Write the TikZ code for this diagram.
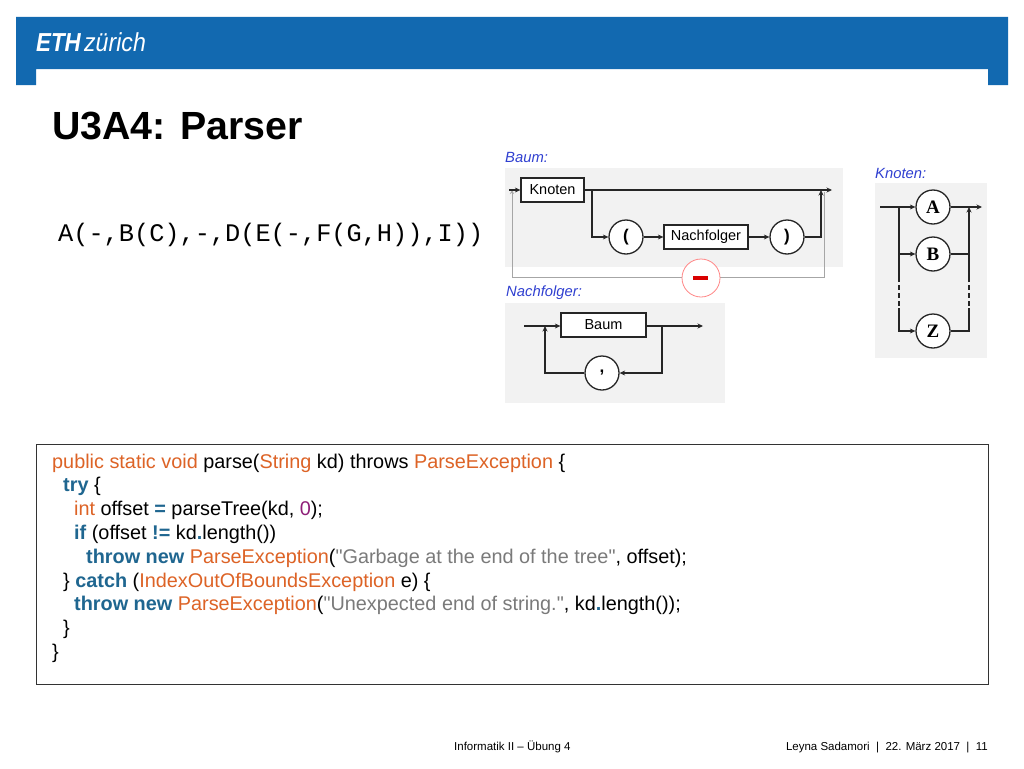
\documentclass[tikz,border=0pt]{standalone}
\usepackage{fontspec}
\setmainfont{Liberation Sans}
\setmonofont{Liberation Mono}
\newfontfamily\codefont{Liberation Sans}
\newfontfamily\letterfont{Liberation Serif}
\usepackage{xcolor}
\usetikzlibrary{positioning, arrows.meta}

\definecolor{ethblue}{HTML}{1269B0}
\definecolor{panelgray}{HTML}{F2F2F2}
\definecolor{labelblue}{HTML}{2F3FD0}
\definecolor{kworange}{HTML}{DD6326}
\definecolor{kwblue}{HTML}{1F6690}
\definecolor{numpurple}{HTML}{8E1E78}
\definecolor{strgray}{HTML}{7A7A7A}
\newcommand{\kwo}[1]{\textcolor{kworange}{#1}}
\newcommand{\kwb}[1]{\textcolor{kwblue}{\textbf{#1}}}
\newcommand{\strg}[1]{\textcolor{strgray}{#1}}

\begin{document}
\begin{tikzpicture}[x=1pt, y=-1pt,
  % Node Styles
  boxnode/.style={rectangle, draw=black!85, fill=white, line width=1.3pt, inner sep=0pt, align=center, font=\fontsize{14.5}{16}\selectfont},
  tokennode/.style={circle, draw=black!85, fill=white, line width=1.3pt, minimum size=34pt, inner sep=0pt, font=\fontsize{17}{18}\selectfont\bfseries},
  lettertoken/.style={tokennode, font=\fontsize{19}{20}\selectfont\letterfont\bfseries},
  panel/.style={fill=panelgray, draw=none},
  headlabel/.style={anchor=base west, inner sep=0pt, text=labelblue, font=\fontsize{14.8}{16}\selectfont\itshape},
  footlabel/.style={inner sep=0pt, font=\fontsize{11.5}{13}\selectfont},
  % Arrow Styles
  flowline/.style={line width=1.2pt, black!85},
  flowarrow/.style={flowline, -{Stealth[length=5.5pt, width=5pt]}},
  greyarrow/.style={line width=0.9pt, black!35, -{Stealth[length=4pt, width=4pt]}}
]
\useasboundingbox (0,0) rectangle (1024,768);

% Header
\fill[ethblue] (16,17) -| (1008,85) -| (988,69) -| (36,85) -| (16,17) -- cycle;
\node[anchor=base west, inner sep=0pt, text=white, font=\fontsize{26}{28}\selectfont\bfseries\itshape, xscale=0.86] (ethmark) at (36,52) {ETH};
\node[anchor=base west, inner sep=0pt, text=white, font=\fontsize{26}{28}\selectfont\itshape, xscale=0.89] (zurichmark) at (84,52) {zürich};
\node[anchor=base west, inner sep=0pt, font=\fontsize{39.3}{42}\selectfont\bfseries] (title) at (52,139) {U3A4: Parser};
\node[anchor=base west, inner sep=0pt, font=\fontsize{25.3}{28}\selectfont\ttfamily] (input) at (58,241) {A(-,B(C),-,D(E(-,F(G,H)),I))};

% Baum
\node[headlabel] (baumlabel) at (505,162) {Baum:};
\fill[panel] (505,168) rectangle (843,267);
\coordinate (bstart) at (509,190);
\coordinate (bend) at (832,190);
\coordinate (bsplit) at (592,190);
\coordinate (bjoin) at (821,190);
\coordinate (bbackl) at (512,190);
\coordinate (bbackr) at (824,192);
\node[boxnode, minimum width=63pt, minimum height=24pt] (knoten) at (552.5,190) {Knoten};
\node[tokennode] (open) at (626,237) {(};
\node[boxnode, minimum width=84pt, minimum height=24pt] (nachf) at (706,237) {Nachfolger};
\node[tokennode] (close) at (787,237) {)};
\draw[greyarrow] (bbackr) |- (512,277.5) -- (bbackl);
\node[circle, draw=red!30!pink, fill=white, line width=0.8pt, minimum size=38pt, inner sep=0pt] (minus) at (701,278) {};
\fill[red!85!black] (693,276) rectangle (708,280);
\draw[flowarrow] (bstart) -- (knoten);
\draw[flowarrow] (knoten) -- (bend);
\draw[flowarrow] (bsplit) |- (open);
\draw[flowarrow] (open) -- (nachf);
\draw[flowarrow] (nachf) -- (close);
\draw[flowarrow] (close) -| (bjoin);

% Nachfolger
\node[headlabel] (nachflabel) at (506,296) {Nachfolger:};
\fill[panel] (505,303) rectangle (725,403);
\coordinate (nstart) at (524,326);
\coordinate (nend) at (703,326);
\coordinate (nright) at (662,326);
\coordinate (nleft) at (545,326);
\node[boxnode, minimum width=85pt, minimum height=24pt] (baum) at (603.5,325) {Baum};
\node[tokennode] (comma) at (602,373) {,};
\draw[flowarrow] (nstart) -- (baum.west |- nstart);
\draw[flowarrow] (baum.east |- nend) -- (nend);
\draw[flowarrow] (nright) |- (comma);
\draw[flowarrow] (comma) -| (nleft);

% Knoten
\node[headlabel] (knotenlabel) at (875,178) {Knoten:};
\fill[panel] (875,183) rectangle (987,358);
\coordinate (kstart) at (880,207);
\coordinate (kend) at (982,207);
\coordinate (ksplit) at (899,207);
\coordinate (kjoin) at (969,207);
\node[lettertoken] (nodea) at (933,207) {A};
\node[lettertoken] (nodeb) at (933,254) {B};
\node[lettertoken] (nodez) at (933,331) {Z};
\draw[flowarrow] (kstart) -- (nodea);
\draw[flowarrow] (nodea) -- (kend);
\draw[flowline] (ksplit) -- (899,282);
\draw[flowline, dash pattern=on 5pt off 3pt] (899,285) -- (899,308);
\draw[flowarrow] (899,254) -- (nodeb);
\draw[flowarrow] (899,308) |- (nodez);
\draw[flowline] (nodez) -| (969,308);
\draw[flowline, dash pattern=on 5pt off 3pt] (969,285) -- (969,308);
\draw[flowarrow] (969,282) -- (kjoin);
\draw[flowline] (nodeb) -- (969,254);

% Code
\node[rectangle, draw=black!80, fill=white, line width=0.9pt, minimum width=952pt, minimum height=240pt, inner sep=0pt] (codebox) at (512,564) {};
\node[anchor=base west, inner sep=0pt, align=left, font=\codefont\fontsize{19.85}{23.8}\selectfont] (code) at (52,658.4) {%
\kwo{public static void} parse(\kwo{String} kd) throws \kwo{ParseException} \{\\
\hspace*{11pt}\kwb{try} \{\\
\hspace*{22pt}\kwo{int} offset \kwb{=} parseTree(kd, \textcolor{numpurple}{0});\\
\hspace*{22pt}\kwb{if} (offset \kwb{!=} kd\kwb{.}length())\\
\hspace*{34pt}\kwb{throw new} \kwo{ParseException}(\strg{"Garbage at the end of the tree"}, offset);\\
\hspace*{11pt}\} \kwb{catch} (\kwo{IndexOutOfBoundsException} e) \{\\
\hspace*{22pt}\kwb{throw new} \kwo{ParseException}(\strg{"Unexpected end of string."}, kd\kwb{.}length());\\
\hspace*{11pt}\}\\
\}};

% Footer
\node[footlabel, anchor=base west] (footleft) at (454,750) {Informatik II – Übung 4};
\node[footlabel, anchor=base east] (footright) at (988,750) {Leyna Sadamori \ |\ \ 22. März 2017 \ |\ \ 11};

\end{tikzpicture}
\end{document}
